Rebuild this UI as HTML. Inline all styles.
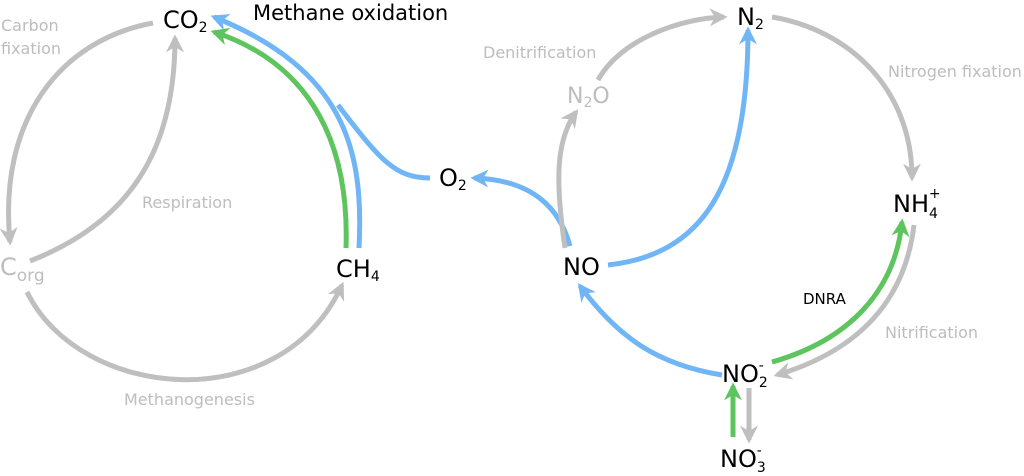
<!DOCTYPE html>
<html><head><meta charset="utf-8"><style>
html,body{margin:0;padding:0;background:#fff;width:1024px;height:476px;overflow:hidden}
svg{display:block}
text{font-family:"DejaVu Sans","Liberation Sans",sans-serif}
</style></head><body>
<svg width="1024" height="476" viewBox="0 0 1024 476" xmlns="http://www.w3.org/2000/svg">
<defs>
<marker id="ag" viewBox="0 0 10 10" refX="8" refY="5" markerWidth="3.6" markerHeight="3.6" orient="auto" markerUnits="strokeWidth"><path d="M0,0 L10,5 L0,10 L3,5z" fill="#bfbfbf"/></marker>
<marker id="ab" viewBox="0 0 10 10" refX="8" refY="5" markerWidth="3.6" markerHeight="3.6" orient="auto" markerUnits="strokeWidth"><path d="M0,0 L10,5 L0,10 L3,5z" fill="#70b5f5"/></marker>
<marker id="agr" viewBox="0 0 10 10" refX="8" refY="5" markerWidth="3.6" markerHeight="3.6" orient="auto" markerUnits="strokeWidth"><path d="M0,0 L10,5 L0,10 L3,5z" fill="#5ec45e"/></marker>
</defs>
<g fill="none" stroke-width="5">
<path d="M153,23 C60,40 -2,120 10,242" stroke="#bfbfbf" marker-end="url(#ag)"/>
<path d="M30,261 C130,222 175,150 175,38" stroke="#bfbfbf" marker-end="url(#ag)"/>
<path d="M27,292 C80,400 280,420 342,285" stroke="#bfbfbf" marker-end="url(#ag)"/>
<path d="M346,248 C350,130 300,60 214,32" stroke="#5ec45e" marker-end="url(#agr)"/>
<path d="M359,248 C364,150 345,70 214,17" stroke="#70b5f5" marker-end="url(#ab)"/>
<path d="M430,178 C395,178 380,160 338,105" stroke="#70b5f5"/>
<path d="M570,246 C560,210 535,180 474,178" stroke="#70b5f5" marker-end="url(#ab)"/>
<path d="M598,80 C620,40 680,18 724,17" stroke="#bfbfbf" marker-end="url(#ag)"/>
<path d="M565,248 C555,180 556,140 576,112" stroke="#bfbfbf" marker-end="url(#ag)"/>
<path d="M772,17 C850,30 912,90 912,178" stroke="#bfbfbf" marker-end="url(#ag)"/>
<path d="M608,265 C700,255 748,190 748,30" stroke="#70b5f5" marker-end="url(#ab)"/>
<path d="M772,362 C850,340 895,290 902,222" stroke="#5ec45e" marker-end="url(#agr)"/>
<path d="M914,225 C905,300 860,350 777,375" stroke="#bfbfbf" marker-end="url(#ag)"/>
<path d="M722,375 C660,365 620,340 580,286" stroke="#70b5f5" marker-end="url(#ab)"/>
<path d="M733,437 L733,386" stroke="#5ec45e" marker-end="url(#agr)"/>
<path d="M749,388 L749,440" stroke="#bfbfbf" marker-end="url(#ag)"/>
</g>
<g fill="#000" font-size="24">
<text x="163" y="28">CO<tspan font-size="14" dy="4">2</tspan></text>
<text x="439" y="186">O<tspan font-size="14" dy="4">2</tspan></text>
<text x="336" y="277">CH<tspan font-size="14" dy="4">4</tspan></text>
<text x="737" y="25">N<tspan font-size="14" dy="4">2</tspan></text>
<text x="893" y="212">NH<tspan font-size="14" dy="6">4</tspan><tspan font-size="14" dx="-9" dy="-20">+</tspan></text>
<text x="563" y="275">NO</text>
<text x="722" y="382">NO<tspan font-size="14" dy="5">2</tspan><tspan font-size="14" dx="-9" dy="-17">-</tspan></text>
<text x="720" y="467">NO<tspan font-size="14" dy="5">3</tspan><tspan font-size="14" dx="-9" dy="-17">-</tspan></text>
</g>
<text fill="#000" font-size="21" x="253" y="20">Methane oxidation</text>
<text fill="#000" font-size="15" x="803" y="304">DNRA</text>
<g fill="#bdbdbd" font-size="16">
<text x="1" y="31">Carbon</text>
<text x="1" y="54">fixation</text>
<text x="142" y="208">Respiration</text>
<text x="124" y="405">Methanogenesis</text>
<text x="483" y="58">Denitrification</text>
<text x="888" y="77">Nitrogen fixation</text>
<text x="885" y="338">Nitrification</text>
<text x="0" y="275" font-size="24">C<tspan font-size="17" dy="6">org</tspan></text>
<text x="567" y="103" font-size="22">N<tspan font-size="14" dy="4">2</tspan><tspan font-size="22" dy="-4">O</tspan></text>
</g>
</svg>
</body></html>
